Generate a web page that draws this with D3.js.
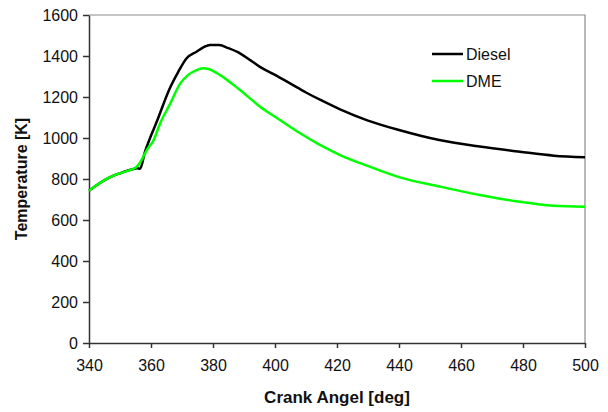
<!DOCTYPE html>
<html>
<head>
<meta charset="utf-8">
<script src="https://cdn.jsdelivr.net/npm/d3@7"></script>
<style>
  body { margin: 0; background: #fff; }
  svg { display: block; font-family: "Liberation Sans", Arial, sans-serif; }
  .axis text { font-size: 16px; fill: #111; }
  .axis path, .axis line { stroke: #333; stroke-width: 1.5; }
</style>
</head>
<body>
<svg class="grafico" width="608" height="412"></svg>
<script>
// dados
const angulo_diesel = [340, 346, 350, 354, 355.5, 356.5, 358, 359.7, 362, 364, 366, 368.8, 371.5, 374.7, 377, 379, 382, 385, 388.7, 392, 395, 400, 405, 410, 415, 421, 430, 440, 453, 466, 479, 490, 500];
const temp_diesel   = [743, 803, 828, 848, 852, 850, 930, 1000, 1085, 1165, 1240, 1323, 1389, 1421, 1443, 1454, 1454, 1438, 1413, 1380, 1348, 1308, 1265, 1222, 1183, 1140, 1085, 1039, 990, 958, 933, 914, 906];

const angulo_dme = [340, 346, 350, 354, 355, 356, 359, 360.7, 362.9, 366.1, 369.4, 372, 374.5, 376.9, 378.5, 382.3, 388.7, 395.2, 401.6, 408.1, 414.5, 421, 430.6, 440.3, 453.2, 466.1, 479, 489.8, 500];
const temp_dme   = [743, 803, 828, 848, 855, 870, 950, 985, 1070, 1165, 1265, 1308, 1330, 1340, 1337, 1307, 1234, 1153, 1088, 1023, 966, 917, 860, 808, 763, 722, 689, 670, 665];

const ticks_x = [340, 360, 380, 400, 420, 440, 460, 480, 500];
const ticks_y = [0, 200, 400, 600, 800, 1000, 1200, 1400, 1600];

const series = [
  { nome: "Diesel", cor: "#000000", x: angulo_diesel, y: temp_diesel },
  { nome: "DME", cor: "#00ff00", x: angulo_dme, y: temp_dme }
];

const svg = d3.select("svg.grafico");

const margin = { top: 15, right: 23, bottom: 69, left: 89 };
const w = 608, h = 412;

const x = d3.scaleLinear()
    .domain([340, 500])
    .range([margin.left, w - margin.right]);

const y = d3.scaleLinear()
    .domain([0, 1600])
    .range([h - margin.bottom, margin.top]);

// moldura cinza (topo e direita)
svg.append("path")
    .attr("d", "M" + x(340) + "," + y(1600) + "H" + x(500) + "V" + y(0))
    .attr("fill", "none")
    .attr("stroke", "#8a8a8a")
    .attr("stroke-width", 1.2);

// eixos
const eixo_y = d3.axisLeft(y)
    .tickValues(ticks_y)
    .tickSize(6)
    .tickSizeOuter(0)
    .tickPadding(5)
    .tickFormat(d3.format("d"));

svg.append("g")
    .attr("class", "axis y-axis")
    .attr("transform", "translate(" + margin.left + ",0)")
    .call(eixo_y);

const eixo_x = d3.axisBottom(x)
    .tickValues(ticks_x)
    .tickSize(5)
    .tickSizeOuter(0)
    .tickPadding(12)
    .tickFormat(d3.format("d"));

svg.append("g")
    .attr("class", "axis x-axis")
    .attr("transform", "translate(0," + (h - margin.bottom) + ")")
    .call(eixo_x);

// titulos dos eixos
svg.append("text")
    .attr("x", (x(340) + x(500)) / 2)
    .attr("y", 403)
    .attr("text-anchor", "middle")
    .attr("font-size", 17)
    .attr("font-weight", "bold")
    .attr("fill", "#111")
    .text("Crank Angel [deg]");

svg.append("text")
    .attr("transform", "translate(27," + ((y(0) + y(1600)) / 2) + ") rotate(-90)")
    .attr("text-anchor", "middle")
    .attr("font-size", 16)
    .attr("font-weight", "bold")
    .attr("fill", "#111")
    .text("Temperature [K]");

// linhas
const linha = d3.line()
    .x(d => x(d[0]))
    .y(d => y(d[1]))
    .curve(d3.curveMonotoneX);

svg.selectAll("path.serie")
    .data(series)
    .enter()
    .append("path")
    .attr("class", "serie")
    .attr("d", d => linha(d.x.map((v, i) => [v, d.y[i]])))
    .attr("fill", "none")
    .attr("stroke", d => d.cor)
    .attr("stroke-width", 2.5)
    .attr("stroke-linejoin", "round");

// legenda
const legenda = svg.selectAll("g.legenda")
    .data(series)
    .enter()
    .append("g")
    .attr("class", "legenda")
    .attr("transform", (d, i) => "translate(432," + (54 + i * 27) + ")");

legenda.append("line")
    .attr("x1", 0).attr("x2", 31)
    .attr("stroke", d => d.cor)
    .attr("stroke-width", 2.5);

legenda.append("text")
    .attr("x", 34)
    .attr("y", 6)
    .attr("font-size", 16)
    .attr("fill", "#111")
    .text(d => d.nome);
</script>
</body>
</html>
